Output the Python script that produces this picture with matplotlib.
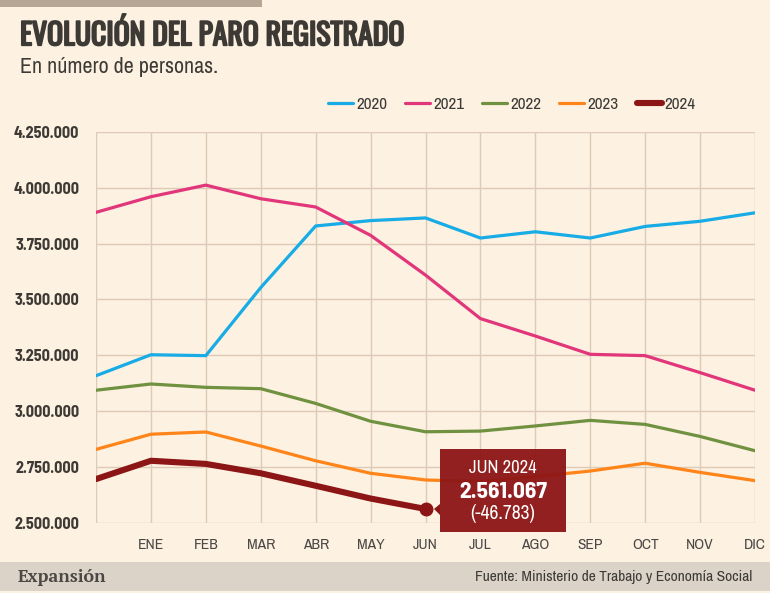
import matplotlib
matplotlib.use("Agg")
import matplotlib.pyplot as plt
import matplotlib.transforms as mtransforms
import matplotlib.patheffects as pe
from matplotlib.patches import Rectangle, Polygon
from matplotlib import font_manager as fm

# ---------------- data ----------------
months = ["", "ENE", "FEB", "MAR", "ABR", "MAY", "JUN", "JUL", "AGO", "SEP", "OCT", "NOV", "DIC"]
years = ["2020", "2021", "2022", "2023", "2024"]
paro_2020 = [3158000, 3252000, 3248000, 3553000, 3829000, 3853000, 3865000, 3775000, 3803000, 3775000, 3827000, 3850000, 3888000]
paro_2021 = [3890000, 3960000, 4012000, 3951000, 3914000, 3787000, 3609000, 3414000, 3336000, 3254000, 3248000, 3172000, 3093000]
paro_2022 = [3093000, 3121000, 3106000, 3100000, 3034000, 2954000, 2907000, 2910000, 2933000, 2958000, 2940000, 2886000, 2822000]
paro_2023 = [2828000, 2896000, 2906000, 2843000, 2777000, 2721000, 2691000, 2684000, 2706000, 2731000, 2766000, 2725000, 2688000]
paro_2024 = [2695000, 2777000, 2763000, 2721000, 2665000, 2607850, 2561067]
series = [paro_2020, paro_2021, paro_2022, paro_2023, paro_2024]
colors = ["#17ACE6", "#E2367A", "#6F9140", "#FF8419", "#8C1515"]
widths = [2.3, 2.3, 2.3, 2.3, 4.4]
y_ticks = [2500000, 2750000, 3000000, 3250000, 3500000, 3750000, 4000000, 4250000]

BG = "#FDF1E1"
GRID = "#DDCBB8"
TXT = "#3D3A36"

entries = fm.fontManager.ttflist
names = {f.name for f in entries}


def has_bold(c):
    return any(f.name == c and isinstance(f.weight, int) and f.weight >= 600 for f in entries)


def pick(cands, need_bold=False):
    for c in cands:
        if c in names and (not need_bold or has_bold(c)):
            return c
    return "DejaVu Sans"


if "Oswald" in names:
    TITLE_F, TITLE_W = "Oswald", ("semibold" if has_bold("Oswald") else "normal")
elif "Fjalla One" in names:
    TITLE_F, TITLE_W = "Fjalla One", "normal"
else:
    TITLE_F, TITLE_W = pick(["Barlow Condensed", "Roboto Condensed", "Asap Condensed"], True), "bold"
BODY_F = pick(["Archivo Narrow", "Barlow Semi Condensed", "Roboto Condensed", "Asap Condensed"])
NUM_F = pick(["Libre Franklin", "Barlow Semi Condensed", "Roboto", "Liberation Sans"], need_bold=True)
SERIF_F = pick(["Libre Caslon Text", "PT Serif", "Noto Serif", "Liberation Serif", "DejaVu Serif"], need_bold=True)


def es(v):
    return f"{int(round(v)):,}".replace(",", ".")


W, H = 770, 593
fig = plt.figure(figsize=(W / 100, H / 100), dpi=100, facecolor=BG)
fig.canvas.draw()
R = fig.canvas.get_renderer()


def fit(t, target_w):
    w = t.get_window_extent(R).width
    if w > 0:
        t.set_fontsize(t.get_fontsize() * target_w / w)
    return t


def fit_size(text, target_w, **kw):
    t = fig.text(0, 0, text, fontsize=10, **kw)
    w = t.get_window_extent(R).width
    t.remove()
    return 10 * target_w / w


# top bar and footer band
fig.patches.append(Rectangle((0, 1 - 7 / H), 262 / W, 7 / H, transform=fig.transFigure,
                             facecolor="#B6A694", edgecolor="none", zorder=0))
fig.patches.append(Rectangle((0, 1 - 591 / H), 1, 29 / H, transform=fig.transFigure,
                             facecolor="#DCD3C8", edgecolor="none", zorder=0))

ax = fig.add_axes([96 / W, 1 - 522.6 / H, 659 / W, 390.6 / H])
ax.set_facecolor(BG)
ax.set_xlim(0, 12)
ax.set_ylim(y_ticks[0], y_ticks[-1])

ysz = fit_size(es(y_ticks[-1]), 66, family=NUM_F, weight="bold")
ax.set_yticks(y_ticks, labels=[es(v) for v in y_ticks], family=NUM_F, weight="bold",
              fontsize=ysz, color=TXT)
ax.set_xticks(range(len(months)), labels=months, family=BODY_F, fontsize=11.2, color="#4A4744")
for s in ax.spines.values():
    s.set_visible(False)
ax.grid(True, color=GRID, linewidth=1.0)
ax.set_axisbelow(True)
ax.tick_params(axis="both", length=0)
ax.tick_params(axis="y", pad=12)
ax.tick_params(axis="x", pad=11)

for yr, vals, c, lw in zip(years, series, colors, widths):
    ax.plot(range(len(vals)), vals, color=c, lw=lw, label=yr,
            solid_capstyle="round", solid_joinstyle="round", zorder=3)

# last point of 2024
last_i = len(paro_2024) - 1
last_v = paro_2024[-1]
ax.plot([last_i], [last_v], "o", color=colors[-1], markersize=9, zorder=4)

# annotation box (pixel offsets from the data point)
px, py = ax.transData.transform((last_i, last_v))
tr = mtransforms.Affine2D().translate(px, py)
box = Rectangle((14.3, -23.3), 126, 83.3, transform=tr, facecolor="#8C1515",
                edgecolor="none", alpha=0.95, zorder=5, clip_on=False)
fig.patches.append(box)
tri = Polygon([(14.5, 5), (14.5, -6), (8.5, 0)], closed=True, transform=tr,
              facecolor="#8C1515", edgecolor="none", zorder=5, clip_on=False)
fig.patches.append(tri)
cx = 14.3 + 63
diff = paro_2024[-1] - paro_2024[-2]
t1 = fig.text(0, 0, f"{months[last_i]} {years[-1]}", transform=mtransforms.Affine2D().translate(px + cx, py + 41),
              ha="center", va="center", color="white", fontsize=11, family=BODY_F, zorder=6)
fit(t1, 68)
t2 = fig.text(0, 0, es(last_v), transform=mtransforms.Affine2D().translate(px + cx, py + 17),
              ha="center", va="center", color="white", fontsize=15, family=NUM_F, weight="bold", zorder=6)
fit(t2, 88)
t3 = fig.text(0, 0, f"({es(diff)})", transform=mtransforms.Affine2D().translate(px + cx, py - 5),
              ha="center", va="center", color="white", fontsize=12, family=BODY_F, zorder=6)
fit(t3, 65)

# legend
lsz = fit_size("2020", 31, family=BODY_F)
fs_px = lsz / 0.72
leg = fig.legend(loc="center", bbox_to_anchor=(512 / W, 1 - 104.5 / H), ncol=5, frameon=False,
                 handlelength=25 / fs_px, handletextpad=3 / fs_px, columnspacing=18 / fs_px,
                 prop={"family": BODY_F, "size": lsz})
for t in leg.get_texts():
    t.set_color(TXT)

# titles
tt = fig.text(20 / W, 1 - 35 / H, "EVOLUCIÓN DEL PARO REGISTRADO", ha="left", va="center",
              family=TITLE_F, weight=TITLE_W, fontsize=20, color=TXT)
fit(tt, 384)
if TITLE_W == "normal":
    tt.set_path_effects([pe.withStroke(linewidth=1.3, foreground=TXT)])
st = fig.text(20 / W, 1 - 67 / H, "En número de personas.", ha="left", va="center",
              family=BODY_F, fontsize=13.5, color=TXT)
fit(st, 198)

# footer
ft = fig.text(18 / W, 1 - 577 / H, "Expansión", ha="left", va="center", family=SERIF_F,
              weight="bold", fontsize=13.5, color="#4A4744")
fit(ft, 89)
src = fig.text(752 / W, 1 - 577 / H, "Fuente: Ministerio de Trabajo y Economía Social", ha="right",
               va="center", family=BODY_F, fontsize=10.6, color=TXT)
fit(src, 279)

fig.savefig("out.png", dpi=100, facecolor=BG)
